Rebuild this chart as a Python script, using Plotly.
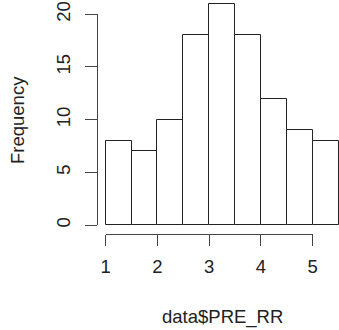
import plotly.graph_objects as go

# Histogram of data$PRE_RR (bins of width 0.5)
bin_left = [1.0, 1.5, 2.0, 2.5, 3.0, 3.5, 4.0, 4.5, 5.0]
counts = [8, 7, 10, 18, 21, 18, 12, 9, 8]
bin_width = 0.5
x_ticks = [1, 2, 3, 4, 5]
y_ticks = [0, 5, 10, 15, 20]

W, H = 339, 330
FONT = dict(family="Liberation Sans, Arial, Helvetica, sans-serif", size=18.5, color="#222")
AX = "#444"

centers = [b + bin_width / 2 for b in bin_left]

fig = go.Figure()
fig.add_trace(go.Bar(
    x=centers, y=counts, width=bin_width,
    marker=dict(color="white", line=dict(color="#222", width=1)),
    hoverinfo="x+y", showlegend=False,
))
# empty trace to host the detached R-style axes
fig.add_trace(go.Scatter(x=[], y=[], xaxis="x2", yaxis="y2", showlegend=False))

# pixel mapping: x=1 -> 105.7px, 51.75 px/unit; y=0 -> 225px, 10.535 px/unit
px_per_x, x0_px = 51.75, 105.7
px_per_y, y0_px = 10.535, 225.0
xr = [1 - x0_px / px_per_x, 1 + (W - x0_px) / px_per_x]
yr = [-(H - y0_px) / px_per_y, y0_px / px_per_y]

fig.update_layout(
    width=W, height=H,
    margin=dict(l=0, r=0, t=0, b=0, autoexpand=False),
    paper_bgcolor="white", plot_bgcolor="rgba(0,0,0,0)",
    font=FONT,
    bargap=0,
    xaxis=dict(domain=[0, 1], range=xr, visible=False, fixedrange=True, automargin=False),
    yaxis=dict(domain=[0, 1], range=yr, visible=False, fixedrange=True, automargin=False),
    xaxis2=dict(
        domain=[x0_px / W, (x0_px + 4 * px_per_x) / W], range=[1, 5],
        anchor="free", position=(H - 234) / H, automargin=False,
        showline=True, linecolor=AX, linewidth=1,
        ticks="outside", ticklen=11, tickcolor=AX, tickwidth=1,
        tickvals=x_ticks, ticktext=[str(v) for v in x_ticks],
        showgrid=False, zeroline=False, ticklabelstandoff=5,
    ),
    yaxis2=dict(
        domain=[(H - y0_px) / H, (H - (y0_px - 20 * px_per_y)) / H], range=[0, 20],
        anchor="free", position=96.7 / W, automargin=False,
        showline=True, linecolor=AX, linewidth=1,
        ticks="outside", ticklen=11.7, tickcolor=AX, tickwidth=1,
        tickvals=y_ticks, ticktext=[str(v) for v in y_ticks], tickangle=-90,
        showgrid=False, zeroline=False, ticklabelstandoff=8,
    ),
    annotations=[
        dict(text="data$PRE_RR", x=222 / W, y=(H - 317) / H, xref="paper", yref="paper",
             showarrow=False, xanchor="center", yanchor="middle", font=FONT),
        dict(text="Frequency", x=17 / W, y=(H - 120) / H, xref="paper", yref="paper",
             showarrow=False, textangle=-90, xanchor="center", yanchor="middle", font=FONT),
    ],
)

fig.write_html("out.html")
